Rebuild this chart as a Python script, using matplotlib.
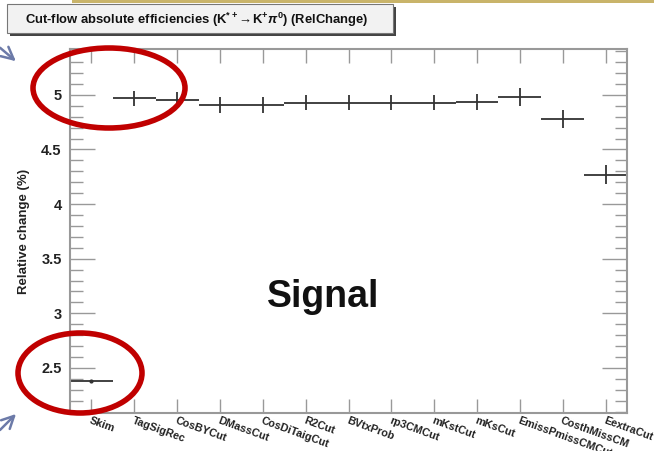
"""Cut-flow relative change plot (signal), ROOT-style, with slide annotations."""
import matplotlib
matplotlib.use("Agg")
import matplotlib.pyplot as plt
from matplotlib.patches import Ellipse, Rectangle, FancyArrowPatch

plt.rcParams['font.family'] = ['Liberation Sans', 'DejaVu Sans']
plt.rcParams['mathtext.fontset'] = 'custom'
plt.rcParams['mathtext.rm'] = 'Liberation Sans:bold'
plt.rcParams['mathtext.it'] = 'Liberation Sans:italic:bold'

# data
cuts = ["Skim", "TagSigRec", "CosBYCut", "DMassCut", "CosDiTaigCut", "R2Cut",
        "BVtxProb", "rp3CMCut", "mKstCut", "mKsCut", "EmissPmissCMCut",
        "CosthMissCM", "EextraCut"]
rel_change = [2.38, 4.97, 4.955, 4.91, 4.91, 4.93, 4.93, 4.93, 4.93, 4.935,
              4.98, 4.78, 4.27]
rel_err = [0.005, 0.07, 0.075, 0.075, 0.075, 0.07, 0.07, 0.07, 0.07, 0.07,
           0.08, 0.08, 0.09]
yticks = [2.5, 3, 3.5, 4, 4.5, 5]
ytick_labels = ["2.5", "3", "3.5", "4", "4.5", "5"]

W, H = 654, 451
fig = plt.figure(figsize=(W / 100, H / 100), dpi=100)

# slide background strip at the top
fig.patches.append(Rectangle((72 / W, 1 - 3 / H), 1, 3 / H, transform=fig.transFigure,
                             facecolor="#c9b46a", edgecolor="none"))

ax = fig.add_axes([70 / W, 1 - 413 / H, 557 / W, 364 / H])
x = list(range(len(cuts)))
ax.errorbar(x, rel_change, yerr=rel_err, xerr=0.5, fmt="none",
            ecolor="#333333", elinewidth=1.3, capsize=0)
ax.plot(x[0], rel_change[0], marker="o", ms=2, color="#333333")

ax.set_xlim(-0.5, len(cuts) - 0.5)
ax.set_ylim(2.087, 5.42)
ax.set_yticks(yticks)
ax.set_yticklabels(ytick_labels, fontsize=10.5, fontweight="bold", color="#222222")
ax.set_yticks([v / 10 for v in range(21, 55)], minor=True)
ax.set_xticks(x)
ax.set_xticklabels(cuts, rotation=-20, ha="left", va="top", fontsize=7.8,
                   fontweight="bold", color="#222222", rotation_mode="anchor")
ax.tick_params(axis="y", which="major", direction="in", length=18, width=1,
               color="#999999", right=True, pad=6)
ax.tick_params(axis="y", which="minor", direction="in", length=9, width=1,
               color="#999999", right=True)
ax.tick_params(axis="x", which="major", direction="in", length=10, width=1,
               color="#999999", top=True, pad=2)
for s in ax.spines.values():
    s.set_color("#999999")
    s.set_linewidth(1.5)

ax.set_ylabel("Relative change (%)", fontsize=9.5, fontweight="bold", color="#222222",
              labelpad=8)

ax.text(0.455, 0.32, "Signal", transform=ax.transAxes, ha="center", va="center",
        fontsize=27, fontweight="bold", color="#111111")

# title box with shadow
fig.patches.append(Rectangle((10 / W, 1 - 36 / H), 386 / W, 29 / H, transform=fig.transFigure,
                             facecolor="#444444", edgecolor="none"))
fig.patches.append(Rectangle((7 / W, 1 - 33 / H), 386 / W, 29 / H, transform=fig.transFigure,
                             facecolor="#f2f2f2", edgecolor="#777777", linewidth=0.8))
fig.text(25 / W, 1 - 20 / H,
         r"Cut-flow absolute efficiencies (K$^{*+}\!\rightarrow\!$K$^{+}\pi^{0}$) (RelChange)",
         fontsize=9.4, fontweight="bold", color="#111111", va="center", ha="left")

# red ellipses
for cx, cy, ew, eh in [(109, 88, 152, 80), (80, 373, 124, 80)]:
    fig.patches.append(Ellipse((cx / W, 1 - cy / H), ew / W, eh / H,
                               transform=fig.transFigure, fill=False,
                               edgecolor="#c00000", linewidth=4))

# arrows
for (x0, y0), (x1, y1) in [((-2, 46), (18, 63)), ((-2, 432), (18, 412))]:
    fig.patches.append(FancyArrowPatch((x0 / W, 1 - y0 / H), (x1 / W, 1 - y1 / H),
                                       transform=fig.transFigure, arrowstyle="->",
                                       mutation_scale=22, color="#6c7aa8", linewidth=1.8))

fig.savefig("out.png", dpi=100)
